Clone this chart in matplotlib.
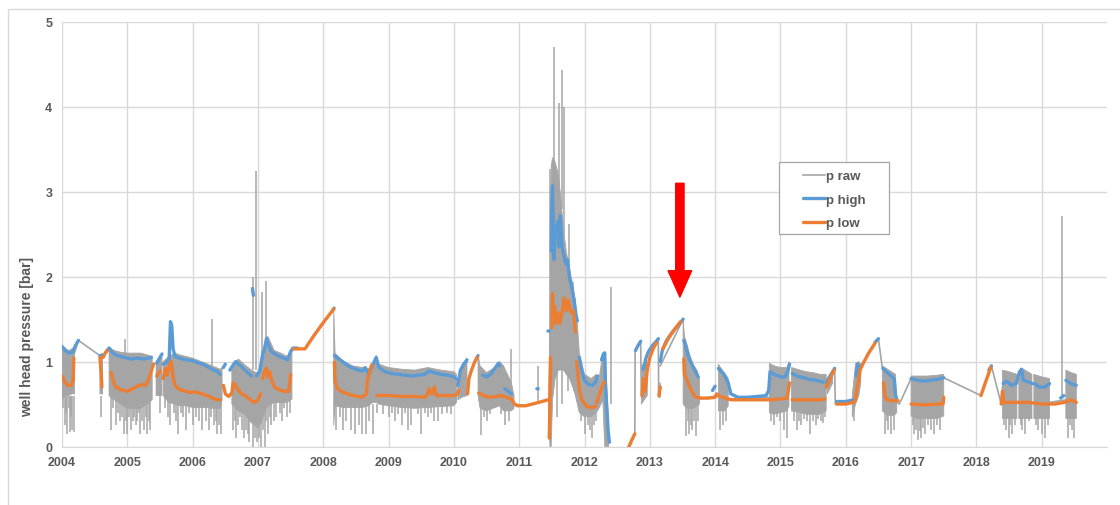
"""
Well head pressure 2004-2019: raw signal with high / low envelopes
"""
import numpy as np
import matplotlib
matplotlib.use("Agg")
import matplotlib.pyplot as plt
from matplotlib.patches import Rectangle

G = (np.nan, np.nan)  # gap marker for (t, v) lists

# p high (blue), decimal year / bar
high_pts = [
    (2004.00, 1.17), (2004.05, 1.13), (2004.10, 1.10), (2004.16, 1.11), (2004.20, 1.18), (2004.25, 1.25), G,
    (2004.58, 1.07), (2004.62, 1.08), G,
    (2004.68, 1.12), (2004.72, 1.16), (2004.78, 1.10), (2004.85, 1.07), (2004.95, 1.05), (2005.05, 1.03),
    (2005.15, 1.04), (2005.25, 1.03), (2005.32, 1.04), (2005.37, 1.05), G,
    (2005.45, 0.98), (2005.50, 1.05), (2005.53, 1.09), G,
    (2005.55, 0.97), (2005.60, 0.99), (2005.64, 1.03), (2005.66, 1.47), (2005.68, 1.42), (2005.70, 1.15),
    (2005.73, 1.06), (2005.80, 1.04), (2005.90, 1.02), (2006.00, 1.01), (2006.10, 0.98), (2006.16, 0.97),
    (2006.25, 0.93), (2006.32, 0.90), (2006.37, 0.89), (2006.42, 0.85), G,
    (2006.47, 0.93), (2006.50, 0.97), G,
    (2006.57, 0.90), (2006.62, 0.96), (2006.66, 1.00), (2006.72, 0.96), (2006.80, 0.90), (2006.86, 0.86),
    (2006.90, 0.83), G,
    (2006.915, 1.86), (2006.93, 1.78), G,
    (2006.98, 0.83), (2007.03, 0.90), (2007.07, 1.08), (2007.10, 1.15), (2007.13, 1.27), (2007.16, 1.20),
    (2007.20, 1.12), (2007.26, 1.09), (2007.33, 1.06), (2007.40, 1.04), (2007.45, 1.02), (2007.50, 1.12),
    (2007.54, 1.16), (2007.60, 1.16), G,
    (2008.15, 1.61), (2008.165, 1.63), G,
    (2008.17, 1.07), (2008.24, 1.03), (2008.31, 0.99), (2008.40, 0.94), (2008.46, 0.92), (2008.54, 0.90),
    (2008.60, 0.89), (2008.64, 0.93), (2008.69, 0.85), (2008.75, 0.95), (2008.81, 1.05), (2008.85, 0.93),
    (2008.95, 0.88), (2009.05, 0.86), (2009.15, 0.85), (2009.25, 0.84), (2009.35, 0.83), (2009.45, 0.84),
    (2009.55, 0.85), (2009.62, 0.89), (2009.70, 0.87), (2009.80, 0.85), (2009.90, 0.84), (2010.00, 0.82),
    (2010.03, 0.80), G,
    (2010.06, 0.72), (2010.10, 0.90), (2010.15, 0.97), (2010.20, 1.02), G,
    (2010.34, 1.03), (2010.37, 1.07), G,
    (2010.44, 0.84), (2010.50, 0.82), (2010.56, 0.85), (2010.62, 0.91), (2010.68, 0.98), (2010.70, 0.95), G,
    (2010.78, 0.68), (2010.83, 0.65), (2010.88, 0.62), G,
    (2011.27, 0.68), (2011.29, 0.68), G,
    (2011.44, 1.36), (2011.46, 1.36), G,
    (2011.49, 2.30), (2011.50, 2.90), (2011.51, 3.07), (2011.52, 2.60), (2011.53, 2.20), (2011.55, 2.50),
    (2011.59, 2.65), (2011.61, 2.35), (2011.63, 2.72), (2011.65, 2.40), (2011.67, 2.30), (2011.71, 2.15),
    (2011.74, 2.20), (2011.77, 1.98), (2011.80, 1.90), (2011.84, 1.72), (2011.87, 1.55), (2011.89, 1.48), G,
    (2011.92, 1.05), (2011.96, 0.88), (2012.00, 0.78), (2012.06, 0.73), (2012.12, 0.72), (2012.17, 0.76),
    (2012.20, 0.83), G,
    (2012.26, 1.02), (2012.29, 1.09), (2012.31, 1.10), (2012.32, 0.75), (2012.34, 0.45), (2012.36, 0.20),
    (2012.38, 0.05), G,
    (2012.78, 1.13), (2012.82, 1.19), (2012.86, 1.24), G,
    (2012.90, 0.91), (2012.94, 1.04), (2012.98, 1.12), (2013.04, 1.19), (2013.10, 1.24), (2013.13, 1.27), G,
    (2013.16, 1.00), (2013.19, 1.13), (2013.25, 1.24), (2013.32, 1.32), (2013.40, 1.40), (2013.46, 1.45),
    (2013.51, 1.50), G,
    (2013.52, 1.25), (2013.55, 1.18), (2013.58, 1.08), (2013.62, 1.00), (2013.66, 0.94), (2013.70, 0.88),
    (2013.74, 0.82), G,
    (2013.96, 0.66), (2014.00, 0.71), G,
    (2014.05, 0.92), (2014.10, 0.88), (2014.15, 0.83), (2014.20, 0.75), (2014.24, 0.62), (2014.35, 0.58),
    (2014.50, 0.58), (2014.65, 0.59), (2014.78, 0.60), (2014.82, 0.66), (2014.84, 0.88), (2014.90, 0.85),
    (2015.00, 0.82), (2015.07, 0.82), (2015.11, 0.88), (2015.14, 0.97), G,
    (2015.18, 0.86), (2015.25, 0.83), (2015.35, 0.81), (2015.45, 0.79), (2015.55, 0.78), (2015.65, 0.76), G,
    (2015.70, 0.75), (2015.75, 0.82), (2015.80, 0.88), (2015.83, 0.92), G,
    (2015.86, 0.53), (2016.00, 0.53), (2016.12, 0.55), G,
    (2016.16, 0.83), (2016.18, 0.97), (2016.20, 0.90), (2016.23, 0.96), G,
    (2016.45, 1.23), (2016.50, 1.27), G,
    (2016.57, 0.92), (2016.62, 0.88), (2016.68, 0.84), (2016.74, 0.80), (2016.76, 0.62), (2016.78, 0.55), G,
    (2017.00, 0.80), (2017.10, 0.78), (2017.20, 0.77), (2017.30, 0.78), (2017.40, 0.79), (2017.50, 0.81), G,
    (2018.19, 0.90), (2018.23, 0.95), G,
    (2018.41, 0.74), (2018.46, 0.77), (2018.54, 0.72), (2018.61, 0.74), (2018.66, 0.88), (2018.69, 0.91),
    (2018.72, 0.78), (2018.80, 0.76), (2018.86, 0.74), G,
    (2018.90, 0.74), (2018.96, 0.70), (2019.05, 0.70), (2019.12, 0.74), G,
    (2019.29, 0.57), (2019.34, 0.60), G,
    (2019.37, 0.78), (2019.45, 0.74), (2019.53, 0.72),
]

# p low (orange)
low_pts = [
    (2004.00, 0.83), (2004.04, 0.76), (2004.09, 0.72), (2004.14, 0.72), (2004.17, 0.78), (2004.18, 1.04), G,
    (2004.58, 1.05), (2004.60, 0.85), (2004.61, 0.70), G,
    (2004.63, 1.05), (2004.66, 1.10), (2004.69, 1.13), G,
    (2004.75, 0.87), (2004.78, 0.78), (2004.82, 0.70), (2004.90, 0.67), (2005.00, 0.65), (2005.08, 0.68),
    (2005.15, 0.71), (2005.22, 0.73), (2005.28, 0.72), (2005.33, 0.80), (2005.37, 0.90), (2005.40, 0.97), G,
    (2005.45, 0.83), (2005.50, 0.89), G,
    (2005.55, 0.80), (2005.58, 0.92), (2005.61, 0.84), (2005.64, 0.95), (2005.67, 1.00), (2005.70, 0.82),
    (2005.73, 0.72), (2005.78, 0.68), (2005.85, 0.66), (2005.95, 0.64), (2006.05, 0.64), (2006.15, 0.62),
    (2006.22, 0.60), (2006.30, 0.57), (2006.38, 0.55), (2006.42, 0.55), G,
    (2006.47, 0.72), (2006.50, 0.62), (2006.55, 0.59), (2006.60, 0.63), (2006.62, 0.75), G,
    (2006.65, 0.73), (2006.70, 0.66), (2006.75, 0.62), (2006.80, 0.60), (2006.85, 0.57), (2006.90, 0.54),
    (2006.95, 0.52), (2007.00, 0.55), (2007.04, 0.62), G,
    (2007.07, 0.80), (2007.10, 0.88), (2007.13, 0.92), (2007.15, 0.82), (2007.18, 0.88), (2007.21, 0.78),
    (2007.25, 0.70), (2007.32, 0.67), (2007.40, 0.65), (2007.47, 0.65), (2007.50, 0.85), G,
    (2007.55, 1.15), (2007.72, 1.15), (2007.85, 1.30), (2008.00, 1.46), (2008.16, 1.62), G,
    (2008.17, 0.99), (2008.18, 0.76), (2008.22, 0.68), (2008.30, 0.64), (2008.45, 0.60), (2008.60, 0.58),
    (2008.66, 0.62), (2008.68, 0.80), (2008.74, 0.96), G,
    (2008.82, 0.60), (2009.00, 0.60), (2009.20, 0.59), (2009.40, 0.59), (2009.56, 0.58), (2009.60, 0.62),
    (2009.62, 0.68), (2009.66, 0.62), (2009.70, 0.70), (2009.73, 0.60), (2010.00, 0.60), (2010.05, 0.62),
    (2010.08, 0.66), G,
    (2010.21, 0.62), (2010.23, 0.80), (2010.27, 0.90), (2010.32, 1.00), (2010.36, 1.05), G,
    (2010.38, 0.63), (2010.45, 0.60), (2010.55, 0.58), (2010.65, 0.59), (2010.72, 0.60), (2010.80, 0.58),
    (2010.88, 0.56), (2010.93, 0.50), (2010.97, 0.48), (2011.10, 0.48), (2011.20, 0.50), (2011.30, 0.52),
    (2011.44, 0.55), G,
    (2011.46, 0.10), (2011.47, 0.50), (2011.48, 1.05), G,
    (2011.50, 1.40), (2011.51, 1.80), (2011.52, 1.50), (2011.54, 1.65), (2011.56, 1.45), (2011.59, 1.58),
    (2011.62, 1.45), (2011.66, 1.60), (2011.69, 1.75), (2011.72, 1.60), (2011.75, 1.72), (2011.79, 1.58),
    (2011.83, 1.60), (2011.86, 1.35), G,
    (2011.88, 1.00), (2011.92, 0.68), (2011.96, 0.55), (2012.02, 0.48), (2012.08, 0.46), (2012.14, 0.46),
    (2012.17, 0.48), G,
    (2012.19, 0.52), (2012.22, 0.60), (2012.26, 0.68), (2012.30, 0.76), G,
    (2012.67, -0.02), (2012.72, 0.07), (2012.77, 0.15), G,
    (2012.88, 0.60), (2012.90, 0.80), (2012.93, 0.65), (2012.96, 0.90), (2013.00, 1.05), (2013.05, 1.15),
    (2013.10, 1.22), G,
    (2013.14, 0.60), (2013.16, 0.70), G,
    (2013.20, 1.15), (2013.28, 1.27), (2013.35, 1.35), (2013.42, 1.42), (2013.47, 1.47), G,
    (2013.52, 1.03), (2013.53, 0.85), (2013.56, 0.80), (2013.60, 0.72), (2013.65, 0.64), (2013.70, 0.58),
    (2013.80, 0.57), (2013.90, 0.57), (2014.00, 0.58), (2014.02, 0.62), (2014.05, 0.60), (2014.15, 0.57),
    (2014.25, 0.55), (2014.50, 0.55), (2014.70, 0.55), (2014.85, 0.55), (2015.00, 0.56), (2015.10, 0.57),
    (2015.12, 0.66), (2015.14, 0.75), G,
    (2015.18, 0.55), (2015.40, 0.55), (2015.60, 0.55), (2015.68, 0.56), G,
    (2015.70, 0.70), (2015.76, 0.80), (2015.82, 0.90), G,
    (2015.86, 0.50), (2016.00, 0.50), (2016.12, 0.52), (2016.15, 0.55), (2016.17, 0.68), (2016.19, 0.75),
    (2016.22, 0.90), (2016.26, 0.97), (2016.35, 1.10), (2016.45, 1.22), G,
    (2016.58, 0.75), (2016.60, 0.60), (2016.63, 0.55), (2016.70, 0.54), (2016.80, 0.54), G,
    (2017.00, 0.50), (2017.20, 0.49), (2017.40, 0.50), (2017.49, 0.50), (2017.50, 0.58), G,
    (2018.07, 0.60), (2018.15, 0.78), (2018.22, 0.93), G,
    (2018.38, 0.50), (2018.40, 0.65), (2018.42, 0.52), (2018.60, 0.52), (2018.80, 0.52), (2019.00, 0.50),
    (2019.20, 0.50), (2019.35, 0.52), (2019.45, 0.55), (2019.53, 0.52),
]

# p raw: dense oscillation, kept as its envelope (t, top, bottom)
B = (np.nan, np.nan, np.nan)
raw_band = [
    (2004.00, 1.20, 0.55), (2004.05, 1.16, 0.60), (2004.10, 1.13, 0.60), (2004.15, 1.15, 0.62), (2004.19, 1.15, 0.62), B,
    (2004.58, 1.07, 0.62), (2004.62, 1.08, 0.62), B,
    (2004.72, 1.17, 0.60), (2004.80, 1.13, 0.55), (2004.90, 1.11, 0.50), (2005.00, 1.10, 0.45), (2005.10, 1.10, 0.45),
    (2005.20, 1.10, 0.45), (2005.30, 1.08, 0.50), (2005.38, 1.06, 0.55), B,
    (2005.44, 1.00, 0.60), (2005.53, 1.10, 0.60), B,
    (2005.55, 1.00, 0.60), (2005.63, 1.06, 0.52), (2005.73, 1.10, 0.50), (2005.80, 1.08, 0.48), (2005.90, 1.06, 0.48),
    (2006.00, 1.04, 0.46), (2006.10, 1.01, 0.46), (2006.20, 0.98, 0.46), (2006.30, 0.95, 0.45), (2006.42, 0.91, 0.45),
    (2006.45, 0.93, 0.55), B,
    (2006.60, 0.95, 0.50), (2006.70, 1.03, 0.42), (2006.80, 0.96, 0.38), (2006.90, 0.90, 0.28), (2007.00, 0.86, 0.22),
    (2007.05, 0.95, 0.28), (2007.10, 1.20, 0.40), (2007.15, 1.30, 0.48), (2007.25, 1.13, 0.52), (2007.35, 1.10, 0.52),
    (2007.45, 1.06, 0.52), (2007.52, 1.16, 0.56), B,
    (2008.16, 1.62, 0.25), (2008.18, 1.10, 0.48), (2008.30, 1.01, 0.46), (2008.45, 0.95, 0.46), (2008.60, 0.93, 0.46),
    (2008.70, 0.92, 0.48), (2008.75, 0.97, 0.52), (2008.81, 1.07, 0.52), (2008.85, 0.97, 0.50), (2009.00, 0.93, 0.48),
    (2009.20, 0.91, 0.46), (2009.40, 0.90, 0.45), (2009.60, 0.93, 0.46), (2009.80, 0.90, 0.47), (2010.00, 0.88, 0.48),
    (2010.04, 0.85, 0.52), B,
    (2010.06, 0.72, 0.55), (2010.12, 0.95, 0.58), (2010.20, 1.04, 0.60), B,
    (2010.37, 1.08, 0.60), (2010.40, 0.95, 0.45), (2010.50, 0.87, 0.42), (2010.60, 0.92, 0.45), (2010.70, 1.00, 0.48),
    (2010.76, 0.95, 0.42), (2010.88, 0.75, 0.42), (2010.92, 0.60, 0.45), B,
    (2011.45, 0.60, 0.45), (2011.47, 1.40, 0.00), (2011.49, 3.30, 0.00), (2011.51, 3.40, 0.55), (2011.55, 3.35, 0.80),
    (2011.60, 3.20, 0.90), (2011.64, 2.90, 0.90), (2011.68, 2.55, 0.90), (2011.72, 2.30, 0.85), (2011.77, 2.10, 0.80),
    (2011.82, 1.90, 0.70), (2011.86, 1.72, 0.60), (2011.89, 1.45, 0.50), (2011.92, 1.10, 0.40), (2012.00, 0.85, 0.35),
    (2012.10, 0.80, 0.35), (2012.18, 0.85, 0.40), (2012.22, 0.78, 0.45), (2012.28, 1.10, 0.55), (2012.31, 1.12, 0.00),
    (2012.37, 0.30, 0.00), B,
    (2012.87, 0.95, 0.50), (2012.96, 1.00, 0.60), B,
    (2013.13, 0.72, 0.58), (2013.16, 0.75, 0.58), B,
    (2013.51, 1.50, 0.50), (2013.53, 1.30, 0.48), (2013.57, 1.20, 0.45), (2013.62, 1.06, 0.45), (2013.67, 0.96, 0.45),
    (2013.72, 0.90, 0.48), (2013.76, 0.80, 0.50), B,
    (2014.05, 0.97, 0.42), (2014.10, 0.91, 0.42), (2014.15, 0.86, 0.42), (2014.20, 0.80, 0.48), B,
    (2014.83, 0.98, 0.40), (2014.90, 0.95, 0.38), (2015.00, 0.93, 0.40), (2015.10, 0.93, 0.42), (2015.13, 1.00, 0.48), B,
    (2015.17, 0.93, 0.42), (2015.30, 0.90, 0.40), (2015.40, 0.88, 0.38), (2015.50, 0.87, 0.38), (2015.60, 0.85, 0.38),
    (2015.70, 0.85, 0.42), B,
    (2015.72, 0.80, 0.62), (2015.80, 0.90, 0.75), B,
    (2016.10, 0.60, 0.35), (2016.15, 0.98, 0.50), (2016.20, 1.00, 0.60), (2016.23, 0.95, 0.75), B,
    (2016.56, 0.95, 0.42), (2016.62, 0.92, 0.38), (2016.70, 0.88, 0.36), (2016.76, 0.85, 0.38), (2016.78, 0.55, 0.40), B,
    (2017.00, 0.83, 0.36), (2017.10, 0.83, 0.33), (2017.25, 0.83, 0.33), (2017.40, 0.84, 0.33), (2017.50, 0.85, 0.36), B,
    (2018.40, 0.90, 0.33), (2018.50, 0.88, 0.33), (2018.62, 0.85, 0.33), B,
    (2018.65, 0.88, 0.33), (2018.70, 0.92, 0.33), (2018.85, 0.85, 0.33), B,
    (2018.88, 0.85, 0.33), (2019.00, 0.82, 0.33), (2019.12, 0.80, 0.33), B,
    (2019.37, 0.90, 0.33), (2019.45, 0.87, 0.33), (2019.53, 0.85, 0.33),
]

# p raw where it runs as a single line (across data gaps)
raw_line_pts = [
    (2004.19, 1.10), (2004.25, 1.25), (2004.58, 1.07), G,
    (2004.62, 1.05), (2004.72, 1.16), G,
    (2007.52, 1.16), (2007.72, 1.15), (2008.16, 1.62), G,
    (2010.92, 0.50), (2011.10, 0.48), (2011.30, 0.52), (2011.45, 0.55), G,
    (2012.67, -0.02), (2012.77, 0.15), (2012.775, 1.13), (2012.86, 1.24), (2012.87, 0.60), G,
    (2013.13, 1.27), (2013.135, 0.60), G,
    (2013.16, 0.95), (2013.51, 1.50), G,
    (2013.76, 0.56), (2014.05, 0.60), G,
    (2014.20, 0.56), (2014.83, 0.58), G,
    (2015.83, 0.92), (2015.84, 0.50), (2016.10, 0.52), G,
    (2016.23, 0.95), (2016.50, 1.27), (2016.56, 0.92), G,
    (2016.78, 0.52), (2016.82, 0.50), (2017.00, 0.80), G,
    (2017.50, 0.81), (2018.07, 0.60), (2018.23, 0.95), (2018.38, 0.50), (2018.40, 0.70), G,
    (2019.12, 0.52), (2019.37, 0.55),
]

# single raw excursions (t, from, to)
raw_spikes = [
    (2004.96, 1.0, 1.27), (2006.30, 0.9, 1.50), (2006.92, 0.9, 2.00), (2006.965, 0.9, 3.25),
    (2007.06, 0.9, 1.82), (2007.13, 1.0, 1.95), (2010.87, 0.6, 1.15), (2011.28, 0.5, 0.95),
    (2011.47, 1.0, 3.27), (2011.535, 3.0, 4.70), (2011.61, 3.0, 4.05), (2011.65, 2.8, 4.43),
    (2011.68, 2.5, 4.00), (2011.765, 2.0, 2.62), (2011.83, 1.7, 1.94), (2012.40, 0.5, 1.88),
    (2019.31, 0.6, 2.72),
]
raw_dips = [
    (2004.02, 0.45, 0.6), (2004.04, 0.25, 0.6), (2004.06, 0.40, 0.6), (2004.08, 0.15, 0.6), (2004.10, 0.45, 0.6),
    (2004.12, 0.17, 0.6), (2004.14, 0.35, 0.6), (2004.16, 0.20, 0.6), (2004.18, 0.17, 0.6),
    (2004.60, 0.35, 0.6),
    (2004.75, 0.20, 0.6), (2004.78, 0.45, 0.6), (2004.82, 0.25, 0.6), (2004.85, 0.40, 0.6), (2004.88, 0.30, 0.6),
    (2004.92, 0.35, 0.6), (2004.95, 0.15, 0.6), (2004.98, 0.30, 0.6), (2005.00, 0.15, 0.6), (2005.03, 0.35, 0.6),
    (2005.05, 0.20, 0.6), (2005.08, 0.30, 0.6), (2005.10, 0.35, 0.6), (2005.13, 0.25, 0.6), (2005.15, 0.30, 0.6),
    (2005.18, 0.40, 0.6), (2005.20, 0.15, 0.6), (2005.23, 0.30, 0.6), (2005.25, 0.20, 0.6), (2005.28, 0.35, 0.6),
    (2005.30, 0.15, 0.6), (2005.33, 0.30, 0.6), (2005.35, 0.20, 0.6), (2005.50, 0.40, 0.6),
    (2005.58, 0.45, 0.6), (2005.62, 0.35, 0.6), (2005.65, 0.25, 0.6), (2005.72, 0.40, 0.6), (2005.75, 0.30, 0.6),
    (2005.78, 0.15, 0.6), (2005.82, 0.40, 0.6), (2005.85, 0.35, 0.6), (2005.90, 0.20, 0.6), (2005.95, 0.40, 0.6),
    (2006.00, 0.25, 0.6), (2006.05, 0.35, 0.6), (2006.10, 0.30, 0.6), (2006.15, 0.20, 0.6), (2006.20, 0.30, 0.6),
    (2006.25, 0.20, 0.6), (2006.28, 0.35, 0.6), (2006.32, 0.25, 0.6), (2006.35, 0.30, 0.6), (2006.38, 0.15, 0.6),
    (2006.41, 0.25, 0.6), (2006.44, 0.15, 0.6),
    (2006.62, 0.20, 0.5), (2006.65, 0.30, 0.5), (2006.67, 0.10, 0.5), (2006.70, 0.25, 0.5), (2006.72, 0.35, 0.5),
    (2006.75, 0.20, 0.5), (2006.78, 0.10, 0.5), (2006.82, 0.20, 0.5), (2006.85, 0.15, 0.5), (2006.87, 0.05, 0.5),
    (2006.92, 0.00, 0.5), (2006.95, 0.10, 0.5), (2006.98, 0.05, 0.5), (2007.02, 0.10, 0.5), (2007.05, 0.00, 0.5),
    (2007.08, 0.20, 0.5), (2007.10, -0.10, 0.5), (2007.13, 0.30, 0.6), (2007.15, 0.15, 0.6), (2007.18, 0.35, 0.6),
    (2007.20, 0.25, 0.6), (2007.24, 0.30, 0.6), (2007.28, 0.35, 0.6), (2007.33, 0.40, 0.6), (2007.37, 0.30, 0.6),
    (2007.40, 0.45, 0.6), (2007.45, 0.35, 0.6), (2007.49, 0.40, 0.6),
    (2008.20, 0.20, 0.5), (2008.25, 0.35, 0.5), (2008.30, 0.20, 0.5), (2008.35, 0.30, 0.5), (2008.42, 0.20, 0.5),
    (2008.48, 0.15, 0.5), (2008.55, 0.25, 0.5), (2008.60, 0.15, 0.5), (2008.65, 0.15, 0.5), (2008.70, 0.30, 0.5),
    (2008.76, 0.15, 0.5), (2008.82, 0.40, 0.5), (2008.92, 0.38, 0.5), (2009.00, 0.35, 0.5), (2009.05, 0.40, 0.5),
    (2009.10, 0.30, 0.5), (2009.15, 0.38, 0.5), (2009.20, 0.25, 0.5), (2009.25, 0.40, 0.5), (2009.30, 0.20, 0.5),
    (2009.35, 0.25, 0.5), (2009.45, 0.38, 0.5), (2009.50, 0.15, 0.5), (2009.55, 0.40, 0.5), (2009.60, 0.35, 0.5),
    (2009.65, 0.40, 0.5), (2009.70, 0.30, 0.5), (2009.75, 0.30, 0.5), (2009.82, 0.38, 0.5), (2009.90, 0.40, 0.5),
    (2009.96, 0.38, 0.5),
    (2010.42, 0.13, 0.5), (2010.46, 0.35, 0.5), (2010.50, 0.30, 0.5), (2010.55, 0.38, 0.5), (2010.72, 0.38, 0.5),
    (2010.78, 0.25, 0.5), (2010.85, 0.30, 0.5),
    (2011.58, 0.35, 0.9), (2011.65, 0.50, 0.9), (2011.75, 0.65, 0.9),
    (2011.95, 0.30, 0.4), (2012.00, 0.15, 0.4), (2012.05, 0.25, 0.4), (2012.08, 0.20, 0.4), (2012.12, 0.10, 0.4),
    (2012.15, 0.25, 0.4), (2012.18, 0.30, 0.4),
    (2013.55, 0.12, 0.5), (2013.58, 0.30, 0.5), (2013.60, 0.15, 0.5), (2013.63, 0.25, 0.5), (2013.65, 0.20, 0.5),
    (2013.68, 0.30, 0.5), (2013.70, 0.12, 0.5), (2013.73, 0.30, 0.5),
    (2014.08, 0.20, 0.5), (2014.12, 0.25, 0.5), (2014.17, 0.30, 0.5),
    (2014.86, 0.30, 0.5), (2014.90, 0.25, 0.5), (2014.95, 0.35, 0.5), (2015.00, 0.30, 0.5), (2015.05, 0.20, 0.5),
    (2015.10, 0.10, 0.5),
    (2015.20, 0.30, 0.5), (2015.25, 0.20, 0.5), (2015.28, 0.30, 0.5), (2015.32, 0.25, 0.5), (2015.36, 0.32, 0.5),
    (2015.40, 0.30, 0.5), (2015.45, 0.15, 0.5), (2015.50, 0.30, 0.5), (2015.55, 0.25, 0.5), (2015.58, 0.32, 0.5),
    (2015.62, 0.30, 0.5), (2015.65, 0.28, 0.5), (2015.68, 0.35, 0.5),
    (2016.12, 0.30, 0.5), (2016.60, 0.15, 0.5), (2016.63, 0.30, 0.5), (2016.65, 0.20, 0.5), (2016.70, 0.15, 0.5),
    (2016.74, 0.20, 0.5),
    (2017.03, 0.25, 0.4), (2017.05, 0.15, 0.4), (2017.08, 0.20, 0.4), (2017.10, 0.08, 0.4), (2017.13, 0.18, 0.4),
    (2017.15, 0.10, 0.4), (2017.18, 0.22, 0.4), (2017.22, 0.15, 0.4), (2017.26, 0.25, 0.4), (2017.30, 0.20, 0.4),
    (2017.35, 0.15, 0.4), (2017.40, 0.25, 0.4), (2017.45, 0.20, 0.4),
    (2018.43, 0.25, 0.4), (2018.45, 0.20, 0.4), (2018.50, 0.10, 0.4), (2018.52, 0.25, 0.4), (2018.55, 0.15, 0.4),
    (2018.59, 0.25, 0.4), (2018.68, 0.25, 0.4), (2018.70, 0.20, 0.4), (2018.75, 0.15, 0.4), (2018.80, 0.30, 0.4),
    (2018.92, 0.25, 0.4), (2018.95, 0.20, 0.4), (2019.00, 0.15, 0.4), (2019.05, 0.10, 0.4), (2019.09, 0.25, 0.4),
    (2019.40, 0.10, 0.4), (2019.43, 0.25, 0.4), (2019.47, 0.20, 0.4), (2019.50, 0.10, 0.4),
]

years = list(range(2004, 2020))
yticks = [0, 1, 2, 3, 4, 5]
legend_labels = ['p raw', 'p high', 'p low']

GRAY = '#A5A5A5'
BLUE = '#5B9BD5'
ORANGE = '#ED7D31'
TXT = '#595959'

plt.rcParams['font.family'] = ['Liberation Sans', 'DejaVu Sans']

fig = plt.figure(figsize=(11.2, 5.06), dpi=100)
fig.patches.append(Rectangle((0.007, -0.02), 1.1, 1.0, transform=fig.transFigure,
                             fill=False, edgecolor='#D9D9D9', linewidth=1))
ax = fig.add_axes([0.0554, 0.1156, 0.933, 0.839])

band = np.array(raw_band, dtype=float)
ax.fill_between(band[:, 0], band[:, 2], band[:, 1], color=GRAY, linewidth=0.6,
                edgecolor=GRAY, zorder=2)
spk = np.array(raw_spikes + raw_dips, dtype=float)
ax.vlines(spk[:, 0], spk[:, 1], spk[:, 2], color=GRAY, linewidth=1.1, zorder=2)
rl = np.array(raw_line_pts, dtype=float)
ax.plot(rl[:, 0], rl[:, 1], color=GRAY, linewidth=1.2, zorder=2, label=legend_labels[0])

hp = np.array(high_pts, dtype=float)
ax.plot(hp[:, 0], hp[:, 1], color=BLUE, linewidth=2.4, zorder=3, label=legend_labels[1],
        solid_capstyle='round')
lp = np.array(low_pts, dtype=float)
ax.plot(lp[:, 0], lp[:, 1], color=ORANGE, linewidth=2.4, zorder=4, label=legend_labels[2],
        solid_capstyle='round')

# red marker arrow
ax.annotate('', xy=(2013.46, 1.76), xytext=(2013.46, 3.10),
            arrowprops=dict(arrowstyle='simple,head_width=17,head_length=19,tail_width=6',
                            color='#FF0000', mutation_scale=1, shrinkA=0, shrinkB=0),
            zorder=6)

ax.set_xlim(2004, 2020)
ax.set_ylim(0, 5)
ax.set_xticks(years)
ax.set_xticklabels([str(y) for y in years])
ax.set_yticks(yticks)
ax.grid(True, color='#D9D9D9', linewidth=1)
ax.set_axisbelow(True)
for s in ['top', 'right', 'left']:
    ax.spines[s].set_visible(False)
ax.spines['bottom'].set_color('#D9D9D9')
ax.tick_params(length=0, labelsize=9, labelcolor=TXT, pad=7)
for lab in ax.get_xticklabels() + ax.get_yticklabels():
    lab.set_fontweight('bold')
ax.set_ylabel('well head pressure [bar]', fontsize=10, fontweight='bold', color=TXT)
ax.yaxis.set_label_coords(-0.027, 0.26)

# legend: wide frame drawn separately, entries without frame
ax.add_patch(Rectangle((0.686, 0.501), 0.105, 0.169, transform=ax.transAxes, facecolor='white',
                       edgecolor='#A6A6A6', linewidth=0.9, zorder=7))
leg = ax.legend(loc='upper left', bbox_to_anchor=(0.707, 0.657), fontsize=9.5, frameon=False,
                handlelength=1.6, handletextpad=0.1, borderpad=0.2, labelspacing=0.85,
                borderaxespad=0)
leg.set_zorder(8)
for t in leg.get_texts():
    t.set_color(TXT)
    t.set_fontweight('bold')

fig.savefig('out.png', dpi=100)
